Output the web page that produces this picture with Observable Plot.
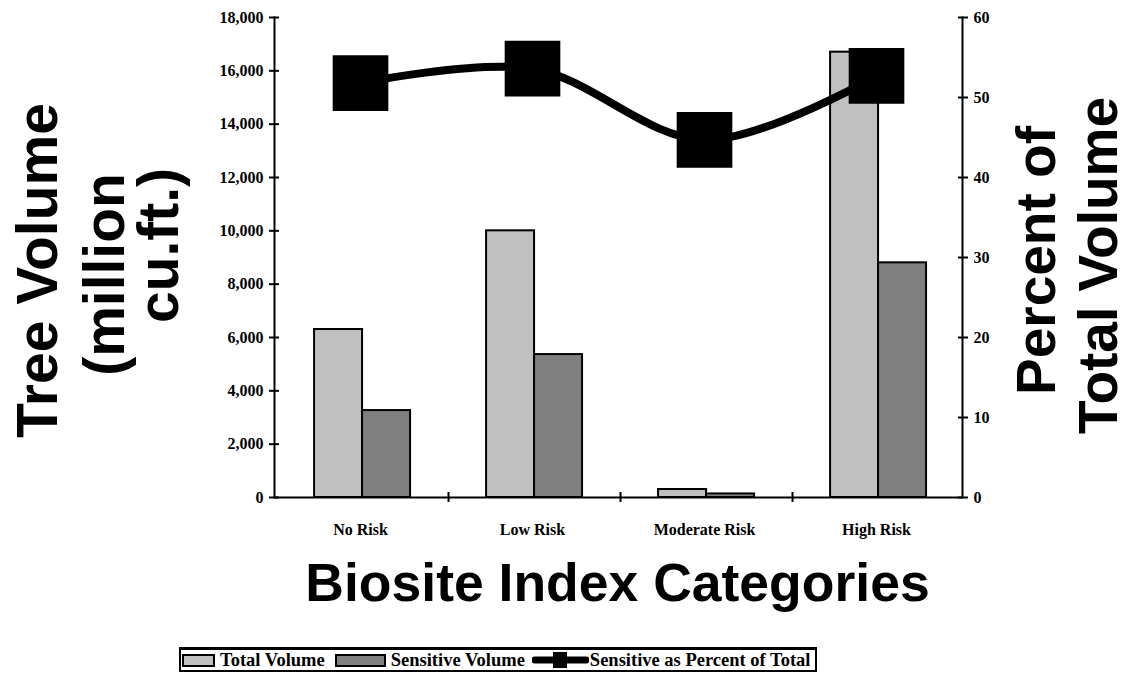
<!DOCTYPE html>
<html><head><meta charset="utf-8">
<script src="https://cdn.jsdelivr.net/npm/d3@7"></script>
<script src="https://cdn.jsdelivr.net/npm/@observablehq/plot@0.6"></script>
<style>
body{margin:0;background:#fff;}
#wrap{position:relative;width:1130px;height:696px;}
#legend{position:absolute;left:179px;top:647px;height:20px;border:2px solid #000;border-top-width:3px;display:flex;align-items:center;font-family:"Liberation Serif","Times New Roman",serif;font-weight:bold;font-size:18.5px;white-space:nowrap;padding-right:5px;box-sizing:content-box;}
.sw{height:13px;border:2px solid #000;box-sizing:border-box;}
.lab{margin-left:5px;margin-right:10px;}
</style></head><body>
<div id="wrap"><div id="chart"></div>
<div id="legend">
<div class="sw" style="width:33px;background:#c0c0c0;margin-left:1px"></div><span class="lab">Total Volume</span>
<div class="sw" style="width:51px;background:#808080"></div><span class="lab" style="margin-right:7px">Sensitive Volume</span>
<svg width="57" height="18"><line x1="3" y1="9" x2="54" y2="9" stroke="#000" stroke-width="7" stroke-linecap="round"/><rect x="21" y="1" width="14" height="16" fill="#000"/></svg><span class="lab" style="margin-left:1px;margin-right:0">Sensitive as Percent of Total</span>
</div></div>
<script>
const categories = ["No Risk", "Low Risk", "Moderate Risk", "High Risk"];
const totalVolume = [6300, 10000, 300, 16700];
const sensitiveVolume = [3260, 5360, 134, 8800];
const sensitivePercent = [51.8, 53.6, 44.7, 52.7];
const leftTicks = [0, 2000, 4000, 6000, 8000, 10000, 12000, 14000, 16000, 18000];
const rightTicks = [0, 10, 20, 30, 40, 50, 60];
const leftTitle = ["Tree Volume", "(million", "cu.ft.)"];
const rightTitle = ["Percent of", "Total Volume"];
const xTitle = "Biosite Index Categories";

const data = categories.map((c, i) => ({category: c, total: totalVolume[i], sensitive: sensitiveVolume[i], pct: sensitivePercent[i]}));
const pctToVol = 18000 / 60;

const W = 1130, H = 640, mL = 274, mR = 168, mT = 17, mB = H - 497;
const band = (W - mL - mR) / categories.length;
const serif = '"Liberation Serif","Times New Roman",serif';
const sans = '"Liberation Sans",Arial,Helvetica,sans-serif';
const frameMidY = (mT + 497) / 2;

const plot = Plot.plot({
  width: W, height: H, marginLeft: mL, marginRight: mR, marginTop: mT, marginBottom: mB,
  style: {fontFamily: serif, fontSize: "16px", fontWeight: "bold", background: "#fff", color: "#000", overflow: "visible"},
  x: {type: "band", domain: categories, padding: 0, axis: null},
  y: {domain: [0, 18000], axis: null, label: null},
  marks: [
    Plot.barY(data, {x: "category", y: "total", fill: "#c0c0c0", stroke: "#000", strokeWidth: 2, insetLeft: band * 0.233, insetRight: band * 0.488}),
    Plot.barY(data, {x: "category", y: "sensitive", fill: "#808080", stroke: "#000", strokeWidth: 2, insetLeft: band * 0.512, insetRight: band * 0.209}),
    Plot.ruleY([0], {strokeWidth: 2}),
    Plot.frame({anchor: "left", strokeWidth: 2}),
    Plot.frame({anchor: "right", strokeWidth: 2}),
    Plot.axisY({ticks: leftTicks, tickSize: 10, dx: 5, tickFormat: () => "", strokeWidth: 2, label: null}),
    Plot.axisY({ticks: leftTicks, tickSize: 0, tickPadding: 11, tickFormat: d3.format(","), label: null}),
    Plot.axisY({anchor: "right", ticks: rightTicks.map(v => v * pctToVol), tickSize: 10, dx: -5, tickFormat: () => "", strokeWidth: 2, label: null}),
    Plot.axisY({anchor: "right", ticks: rightTicks.map(v => v * pctToVol), tickSize: 0, tickPadding: 11, tickFormat: v => String(v / pctToVol), label: null}),
    Plot.axisX({ticks: categories.slice(1), tickSize: 10, dx: -band / 2 + 2, dy: -5, tickFormat: () => "", strokeWidth: 2, label: null}),
    Plot.axisX({tickSize: 0, tickPadding: 26, label: null}),
    Plot.line(data, {x: "category", y: d => d.pct * pctToVol, stroke: "#000", strokeWidth: 8, curve: "catmull-rom"}),
    Plot.dot(data, {x: "category", y: d => d.pct * pctToVol, symbol: "square", r: 31.4, fill: "#000", stroke: null}),
    Plot.text([xTitle], {text: d => d, frameAnchor: "bottom", dx: -1, dy: 86, fontFamily: sans, fontSize: 53.5, fontWeight: "bold", lineAnchor: "middle"}),
    ...leftTitle.map((t, i) => Plot.text([t], {text: d => d, frameAnchor: "left", rotate: -90, dx: [38, 105, 159][i] - mL, dy: [270, 274, 245][i] - frameMidY, fontFamily: sans, fontSize: 57, fontWeight: "bold", lineAnchor: "middle", textAnchor: "middle"})),
    ...rightTitle.map((t, i) => Plot.text([t], {text: d => d, frameAnchor: "right", rotate: -90, dx: [1037, 1099][i] - (W - mR), dy: [260, 265][i] - frameMidY, fontFamily: sans, fontSize: 55, fontWeight: "bold", lineAnchor: "middle", textAnchor: "middle"}))
  ]
});
document.getElementById("chart").appendChild(plot);
</script>
</body></html>
